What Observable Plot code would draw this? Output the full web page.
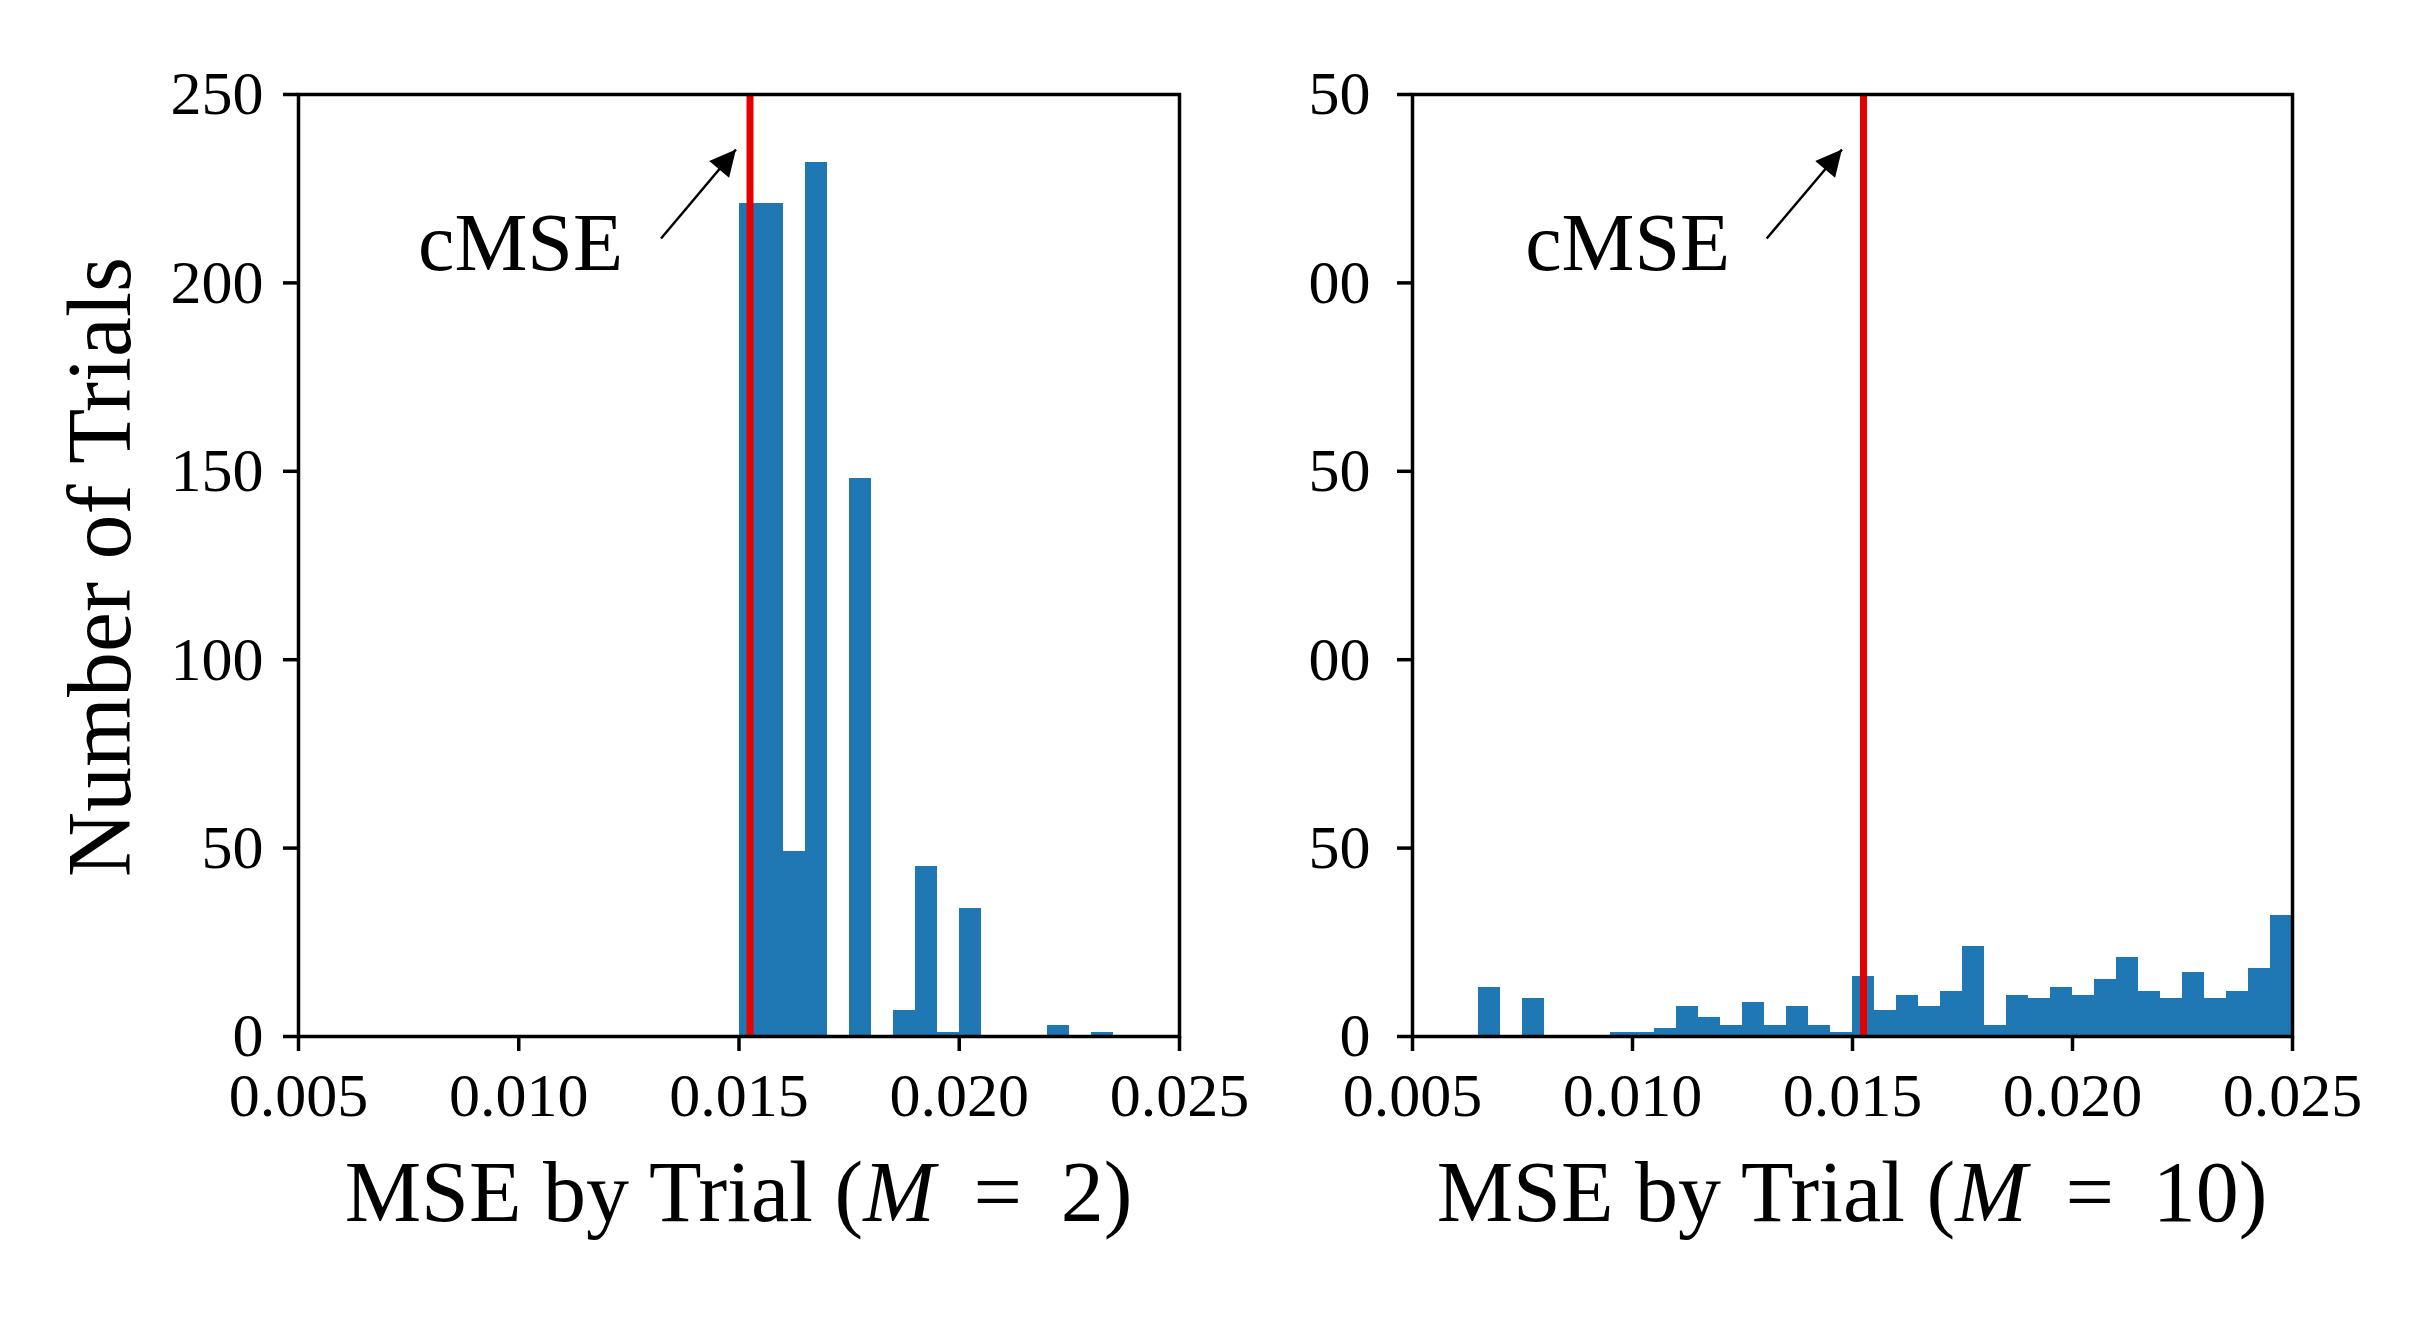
<!DOCTYPE html>
<html><head><meta charset="utf-8">
<script src="https://cdn.jsdelivr.net/npm/d3@7"></script>
<script src="https://cdn.jsdelivr.net/npm/@observablehq/plot@0.6"></script>
<style>
html,body{margin:0;padding:0;background:#fff;}
#wrap{position:relative;width:2434px;height:1320px;overflow:hidden;background:#fff;}
#wrap svg{position:absolute;top:0;}
</style></head><body><div id="wrap"></div>
<script>
// ---------- data ----------
const xTicks = [0.005, 0.010, 0.015, 0.020, 0.025];
const yTicks = [0, 50, 100, 150, 200, 250];
const yTickLabelsM2 = ["0", "50", "100", "150", "200", "250"];
const yTickLabelsM10 = ["0", "50", "00", "50", "00", "50"];
const binWidth = 0.0005;

const binsM2 = [0.0150, 0.0155, 0.0160, 0.0165, 0.0170, 0.0175, 0.0180, 0.0185, 0.0190,
                0.0195, 0.0200, 0.0205, 0.0210, 0.0215, 0.0220, 0.0225, 0.0230];
const countsM2 = [221, 221, 49, 232, 0, 148, 0, 7, 45, 1, 34, 0, 0, 0, 3, 0, 1];

const binsM10 = [0.0065, 0.0070, 0.0075, 0.0080, 0.0085, 0.0090, 0.0095, 0.0100, 0.0105,
                 0.0110, 0.0115, 0.0120, 0.0125, 0.0130, 0.0135, 0.0140, 0.0145, 0.0150,
                 0.0155, 0.0160, 0.0165, 0.0170, 0.0175, 0.0180, 0.0185, 0.0190, 0.0195,
                 0.0200, 0.0205, 0.0210, 0.0215, 0.0220, 0.0225, 0.0230, 0.0235, 0.0240, 0.0245];
const countsM10 = [13, 0, 10, 0, 0, 0, 1, 1, 2,
                   8, 5, 3, 9, 3, 8, 3, 1, 16,
                   7, 11, 8, 12, 24, 3, 11, 10, 13,
                   11, 15, 21, 12, 10, 17, 10, 12, 18, 32];

const cMSE = 0.01525;
const annotationText = "cMSE";
const arrowTailM2 = [0.01323, 211.8], arrowTipM2 = [0.01493, 235.4], labelPosM2 = [0.01004, 203.5];
const arrowTailM10 = [0.01305, 211.8], arrowTipM10 = [0.01476, 235.4], labelPosM10 = [0.00989, 203.5];

const yTitle = "Number of Trials";
const xTitleM2 = ["MSE by Trial (", "M", " = 2)"];
const xTitleM10 = ["MSE by Trial (", "M", " = 10)"];

// ---------- layout ----------
const FONT = "'Liberation Serif','Times New Roman',Times,serif";
const H = 1320, MT = 94, MB = 284;
const barColor = "#1f77b4";
const redColor = "#e60000";

function headSymbol(ux, uy) {
  const L = 26, W = 13;
  return {
    draw(ctx) {
      const bx = -ux * L, by = -uy * L, px = -uy, py = ux;
      ctx.moveTo(0, 0);
      ctx.lineTo(bx + px * W, by + py * W);
      ctx.lineTo(bx - px * W, by - py * W);
      ctx.closePath();
    }
  };
}

function panel({bins, counts, yLabels, left, width, marginLeft, marginRight, yPad, tail, tip, labelPos, xTitle, yTitleOn, bg}) {
  const data = bins.map((b, i) => ({x1: b, x2: b + binWidth, y: counts[i]}));
  const sx = d3.scaleLinear([0.005, 0.025], [marginLeft, width - marginRight]);
  const sy = d3.scaleLinear([0, 250], [H - MB, MT]);
  const dx = sx(tip[0]) - sx(tail[0]), dy = sy(tip[1]) - sy(tail[1]);
  const len = Math.hypot(dx, dy);
  const plot = Plot.plot({
    width, height: H, marginLeft, marginRight, marginTop: MT, marginBottom: MB,
    style: {fontFamily: FONT, background: bg, color: "black", overflow: "visible"},
    x: {domain: [0.005, 0.025]},
    y: {domain: [0, 250]},
    marks: [
      Plot.rectY(data, {x1: "x1", x2: "x2", y: "y", fill: barColor, shapeRendering: "crispEdges"}),
      Plot.ruleX([cMSE], {stroke: redColor, strokeWidth: 7}),
      Plot.frame({stroke: "black", strokeWidth: 3.5}),
      Plot.axisX({ticks: xTicks, tickFormat: d3.format(".3f"), tickSize: 15, tickPadding: 20,
                  fontSize: 62, strokeWidth: 3.5, label: null, fontFamily: FONT}),
      Plot.axisY({ticks: yTicks, tickFormat: d => yLabels[yTicks.indexOf(d)], tickSize: 15, tickPadding: yPad,
                  fontSize: 62, strokeWidth: 3.5, label: null, fontFamily: FONT}),
      Plot.link([0], {x1: () => tail[0], y1: () => tail[1], x2: () => tip[0], y2: () => tip[1],
                      stroke: "black", strokeWidth: 2.5}),
      Plot.dot([0], {x: () => tip[0], y: () => tip[1], symbol: headSymbol(dx / len, dy / len),
                     fill: "black", stroke: "none", r: 10}),
      Plot.text([annotationText], {x: () => labelPos[0], y: () => labelPos[1], text: d => d,
                     fontSize: 82, textAnchor: "middle", lineAnchor: "bottom", fontFamily: FONT})
    ]
  });
  plot.style.left = left + "px";
  const svg = d3.select(plot);
  const cx = (marginLeft + width - marginRight) / 2;
  const t = svg.append("text").attr("x", cx).attr("y", 1221).attr("text-anchor", "middle")
    .attr("font-size", 86).attr("font-family", FONT).attr("fill", "black");
  t.append("tspan").text(xTitle[0]);
  t.append("tspan").attr("font-style", "italic").text(xTitle[1]);
  t.append("tspan").attr("xml:space", "preserve").text(xTitle[2].replace(" = ", "\u2009 = \u2009"));
  if (yTitleOn) {
    svg.append("text").attr("transform", "translate(130,567) rotate(-90)")
      .attr("text-anchor", "middle").attr("font-size", 90).attr("font-family", FONT)
      .attr("fill", "black").text(yTitle);
  }
  return plot;
}

const wrap = document.getElementById("wrap");
wrap.appendChild(panel({bins: binsM2, counts: countsM2, yLabels: yTickLabelsM2, left: 0, width: 1270,
  marginLeft: 298, marginRight: 91, yPad: 20, tail: arrowTailM2, tip: arrowTipM2, labelPos: labelPosM2,
  xTitle: xTitleM2, yTitleOn: true, bg: "white"}));
wrap.appendChild(panel({bins: binsM10, counts: countsM10, yLabels: yTickLabelsM10, left: 1270, width: 1164,
  marginLeft: 142, marginRight: 142, yPad: 27, tail: arrowTailM10, tip: arrowTipM10, labelPos: labelPosM10,
  xTitle: xTitleM10, yTitleOn: false, bg: "transparent"}));
</script></body></html>
